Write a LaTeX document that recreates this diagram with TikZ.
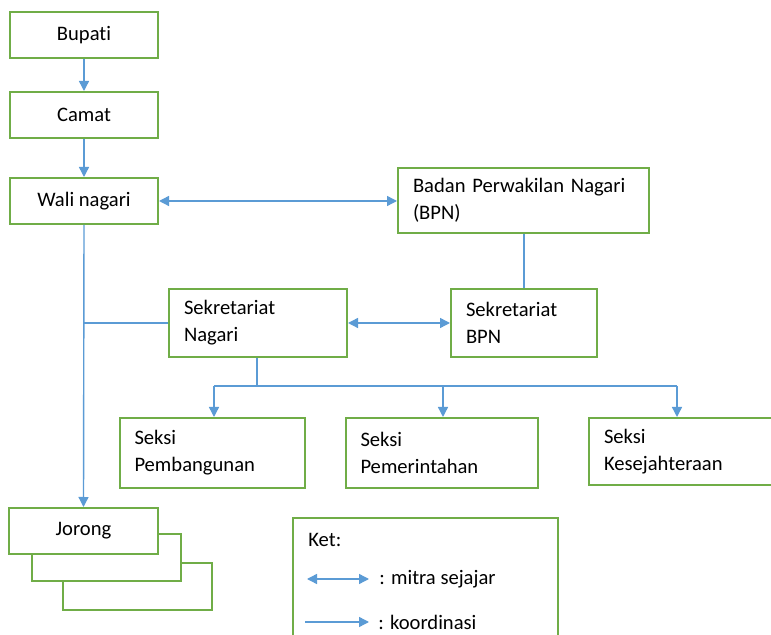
\documentclass[tikz,border=0pt]{standalone}
\usepackage{fontspec}
\setmainfont{Carlito}[Ligatures=NoCommon]
\usetikzlibrary{arrows.meta,positioning}
\definecolor{hijau}{RGB}{112,173,71}
\definecolor{biru}{RGB}{91,155,213}
\tikzset{
  kotak/.style={draw=hijau, line width=1pt, fill=white, inner sep=0pt,
    font=\fontsize{10.3}{13.5}\selectfont},
  kiri/.style={kotak, align=left, inner xsep=7.5pt},
  garis/.style={draw=biru, line width=0.7pt},
  panah/.style={garis, -{Triangle[length=5pt,width=5pt]}},
  dua/.style={garis, {Triangle[length=5pt,width=5pt]}-{Triangle[length=5pt,width=5pt]}},
  ket/.style={font=\fontsize{10.3}{13.5}\selectfont, inner sep=0pt, anchor=west}
}
\begin{document}
\begin{tikzpicture}[x=0.5pt,y=-0.5pt]
  \useasboundingbox (0,0) rectangle (771,635);
  \clip (0,0) rectangle (771,635);

  % Pimpinan
  \node[kotak, minimum width=74pt, minimum height=23pt] (bupati) at (84,35.5) {Bupati};
  \node[kotak, minimum width=74pt, minimum height=23pt] (camat) at (84,115) {Camat};
  \node[kotak, minimum width=74pt, minimum height=23pt] (wali) at (84,201) {Wali nagari};

  % BPN dan sekretariat
  \node[kiri, minimum width=125.5pt, text width=110.5pt, minimum height=32.5pt] (bpn) at (523.5,200.5)
    {Badan Perwakilan Nagari\\(BPN)};
  \node[kiri, minimum width=89pt, text width=74pt, minimum height=34pt] (sekn) at (258,323)
    {Sekretariat\\Nagari};
  \node[kiri, minimum width=73pt, text width=58pt, minimum height=34pt] (sekbpn) at (524,323)
    {Sekretariat\\BPN};

  % Seksi
  \node[kiri, minimum width=92.5pt, text width=77.5pt, minimum height=35pt] (pemb) at (212,453)
    {Seksi\\Pembangunan};
  \node[kiri, minimum width=96pt, text width=81pt, minimum height=35pt] (pemr) at (441.5,453)
    {Seksi\\Pemerintahan};
  \node[kiri, minimum width=96pt, text width=81pt, minimum height=33.5pt] (kesj) at (685,451.5)
    {Seksi\\Kesejahteraan};

  % Jorong (bertumpuk)
  \node[kotak, minimum width=74.5pt, minimum height=23.5pt] (jorong3) at (137.5,586.5) {};
  \node[kotak, minimum width=74.5pt, minimum height=23.5pt] (jorong2) at (106.5,557.5) {};
  \node[kotak, minimum width=74.5pt, minimum height=23pt] (jorong) at (83.5,531) {Jorong};

  % Hubungan
  \draw[panah] (bupati) -- (camat);
  \draw[panah] (camat) -- (wali);
  \draw[dua] (wali.east) -- (bpn.west |- wali.east);
  \draw[garis] (bpn.south -| sekbpn.north) -- (sekbpn.north);
  \draw[dua] (sekn.east) -- (sekbpn.west);
  \draw[panah] (wali.south) -- (jorong.north);
  \draw[garis] (sekn.west) -- (sekn.west -| wali.south);

  \coordinate (cab) at (257,386);
  \draw[garis] (sekn.south -| cab) -- (cab);
  \draw[garis] (cab -| 214,0) -- (cab -| 677,0);
  \draw[panah] (cab -| 214,0) -- (pemb.north -| 214,0);
  \draw[panah] (cab -| 443,0) -- (pemr.north -| 443,0);
  \draw[panah] (cab -| 677,0) -- (kesj.north -| 677,0);

  % Keterangan
  \node[kotak, minimum width=132.5pt, minimum height=71pt] (ketbox) at (425.5,589) {};
  \node[ket] (ketjudul) at (308,540) {Ket:};
  \coordinate (m1) at (307,579);
  \coordinate (m2) at (369,579);
  \draw[dua] (m1) -- (m2);
  \node[ket] (mitra) at (379,579) {: mitra sejajar};
  \coordinate (k1) at (305,622);
  \coordinate (k2) at (369,622);
  \draw[panah] (k1) -- (k2);
  \node[ket] (koord) at (378,622) {: koordinasi};
\end{tikzpicture}
\end{document}
